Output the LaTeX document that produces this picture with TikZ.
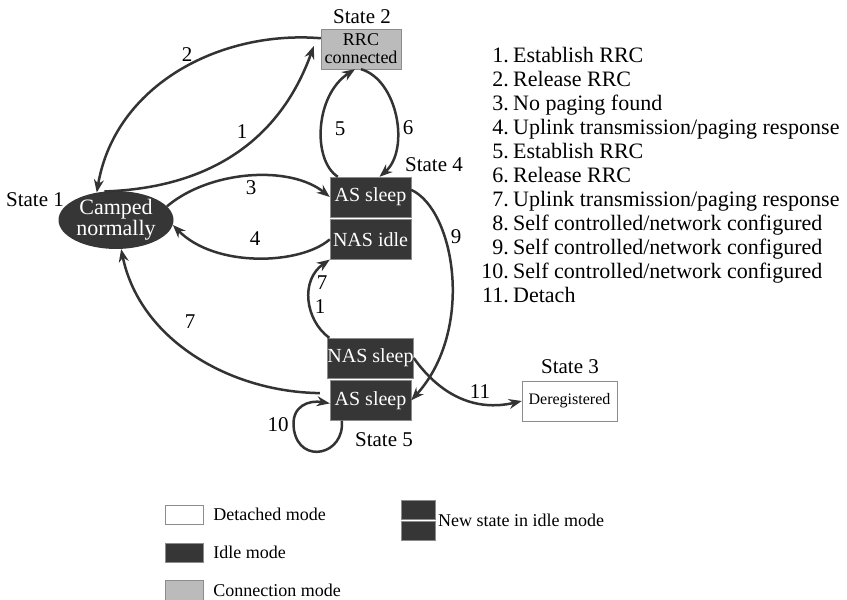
\documentclass[tikz,border=0pt]{standalone}
\usepackage{fontspec}
\setmainfont{LiberationSerif}[Extension=.ttf, UprightFont=*-Regular, BoldFont=*-Bold]
\usetikzlibrary{arrows.meta,shapes.geometric,positioning}

\definecolor{idlegray}{HTML}{363636}
\definecolor{conngray}{HTML}{BBBBBB}
\definecolor{rimgray}{HTML}{8C8C8C}
\definecolor{arcgray}{HTML}{333333}

\tikzset{
  idle/.style={draw=rimgray, fill=idlegray, text=white, inner sep=0pt,
    minimum width=81, minimum height=40, font=\fontsize{20}{20}\selectfont},
  conn/.style={draw=rimgray, fill=conngray, inner sep=0pt, align=center,
    font=\fontsize{18}{18}\selectfont},
  detached/.style={draw=rimgray, fill=white, inner sep=0pt},
  trans/.style={draw=arcgray, line width=2.5pt, -{Stealth[length=13pt,width=10pt]}},
  num/.style={inner sep=0pt},
  legend/.style={inner sep=0pt, anchor=west, font=\fontsize{18}{18}\selectfont},
}

\begin{document}
\begin{tikzpicture}[x=1pt, y=-1pt, font=\fontsize{21}{24}\selectfont]
  \useasboundingbox (0,0) rectangle (847,600);

  % states
  \node[conn, minimum width=80, minimum height=40] (rrc) at (361,49) {RRC\\connected};
  \node[ellipse, fill=idlegray, text=white, minimum width=115, minimum height=55,
    inner sep=0pt, align=center, font=\fontsize{22}{17}\selectfont] (camped) at (116,220) {Camped\\normally};
  \node[idle] (as4) at (370.5,197) {AS sleep};
  \node[idle, below=2pt of as4] (nas4) {NAS idle};
  \node[idle] (nas5) at (370.5,358) {NAS sleep};
  \node[idle, below=2pt of nas5] (as5) {AS sleep};
  \node[detached, minimum width=95, minimum height=40,
    font=\fontsize{16}{16}\selectfont] (dereg) at (569.5,401) {Deregistered};

  \node (s1) at (35,200) {State 1};
  \node (s2) at (362,17) {State 2};
  \node (s3) at (570,367) {State 3};
  \node (s4) at (434,165) {State 4};
  \node (s5) at (384,440) {State 5};

  % transitions
  \draw[trans] (rrc.165) .. controls (220,30) and (115,85) .. (camped.125);
  \draw[trans] (camped.112) .. controls (210,188) and (280,140) .. ([xshift=-7pt,yshift=3pt]rrc.west);
  \draw[trans] (camped.15) .. controls (210,170) and (290,165) .. (as4.west);
  \draw[trans] (nas4.west) .. controls (300,265) and (215,268) .. (camped.355);
  \draw[trans] ([xshift=8pt]as4.north west) .. controls (312,160) and (315,95) .. ([xshift=-6pt]rrc.south);
  \draw[trans] (rrc.south) .. controls (398,80) and (410,150) .. ([xshift=9pt]as4.north);
  \draw[trans] (as4.10) .. controls (455,210) and (475,330) .. (as5.east);
  \draw[trans] (nas5.east) .. controls (440,395) and (475,412) .. (dereg.west);
  \draw[trans] ([xshift=2pt]nas5.north west) .. controls (305,320) and (300,280) .. (nas4.south west);
  \draw[trans, shorten <=10pt] (as5.170) .. controls (230,392) and (140,340) .. (camped.280);
  \draw[trans] ([xshift=12pt]as5.south west) .. controls (345,455) and (300,465) .. (294,430)
    .. controls (290,405) and (310,400) .. ([yshift=-3pt]as5.west);

  \node[num] (l1) at (242,132) {1};
  \node[num] (l2) at (187,55) {2};
  \node[num] (l3) at (251,188) {3};
  \node[num] (l4) at (255,239) {4};
  \node[num] (l5) at (340,129) {5};
  \node[num] (l6) at (408,128) {6};
  \node[num] (l7a) at (322,283) {7};
  \node[num] (l7b) at (320,307) {1};
  \node[num] (l7c) at (190,322) {7};
  \node[num] (l9) at (456,237) {9};
  \node[num] (l10) at (278,425) {10};
  \node[num] (l11) at (480,392) {11};

  % list of transitions
  \foreach \txt [count=\i] in {Establish RRC, Release RRC, No paging found,
      Uplink transmission/paging response, Establish RRC, Release RRC,
      Uplink transmission/paging response, Self controlled/network configured,
      Self controlled/network configured, Self controlled/network configured, Detach} {
    \node[anchor=base east, inner sep=0pt, font=\fontsize{22}{24}\selectfont] (n\i) at (509,{62+24*(\i-1)}) {\i.};
    \node[anchor=base west, inner sep=0pt, font=\fontsize{22}{24}\selectfont] (t\i) at (513,{62+24*(\i-1)}) {\txt};
  }

  % legend
  \node[detached, minimum width=38, minimum height=19] (ldet) at (184,514.5) {};
  \node[legend, right=10pt of ldet] (tdet) {Detached mode};
  \node[idle, minimum width=38, minimum height=19] (lidle) at (184,552.5) {};
  \node[legend, right=10pt of lidle] (tidle) {Idle mode};
  \node[conn, minimum width=38, minimum height=20] (lconn) at (184,590) {};
  \node[legend, right=10pt of lconn] (tconn) {Connection mode};
  \node[idle, minimum width=34, minimum height=19] (lnew1) at (418,509.5) {};
  \node[idle, minimum width=34, minimum height=19, below=2pt of lnew1] (lnew2) {};
  \node[legend] (tnew) at (438,520) {New state in idle mode};
\end{tikzpicture}
\end{document}
